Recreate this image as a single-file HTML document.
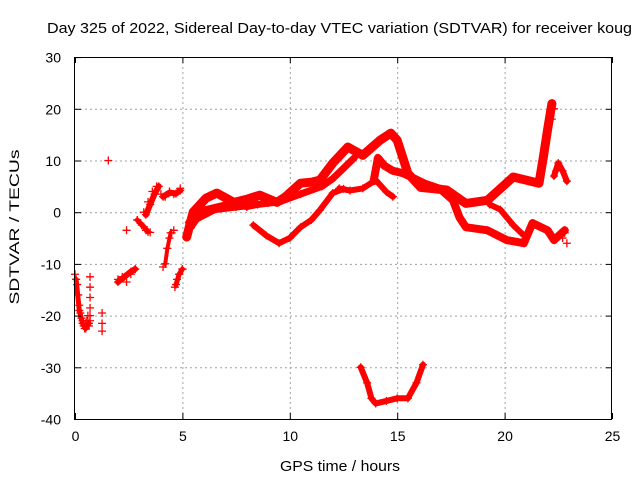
<!DOCTYPE html>
<html><head><meta charset="utf-8"><style>
body{margin:0;background:#fff;}
svg{display:block;font-family:"Liberation Sans",sans-serif;}
</style></head><body>
<svg id="chart" width="640" height="480" viewBox="0 0 640 480">
<rect width="640" height="480" fill="#fff"/>
<text x="47" y="33" font-size="15" textLength="585" lengthAdjust="spacingAndGlyphs" fill="#000">Day 325 of 2022, Sidereal Day-to-day VTEC variation (SDTVAR) for receiver koug</text>
<g id="grid"></g>
<g id="marks"></g>
<rect x="74.5" y="57.5" width="537" height="362" fill="none" stroke="#000" stroke-width="1"/>
<g id="ticks"></g>
<text transform="translate(19,227) rotate(-90)" text-anchor="middle" font-size="14" textLength="155" lengthAdjust="spacingAndGlyphs">SDTVAR / TECUs</text>
<text x="340" y="471" text-anchor="middle" font-size="15" textLength="120" lengthAdjust="spacingAndGlyphs">GPS time / hours</text>
</svg>
<script>
const xTicks=[0,5,10,15,20,25];
const yTicks=[30,20,10,0,-10,-20,-30,-40];
// main tracks (hours, TECU)
const trackAX=[5.2,5.5,6.1,6.6,7.4,8.0,8.6,9.4,9.8,10.5,11.0,11.4,12.0,12.7,13.4,14.2,14.7,15.0,15.5,16.1,17.3,18.2,19.2,20.4,21.0,21.6,21.8,22.0,22.2];
const trackAY=[-4.8,0,2.7,3.7,1.9,2.5,3.3,1.9,3.0,5.6,5.8,6.2,9.5,12.6,11.0,13.9,15.3,13.9,7.5,4.8,4.3,1.7,2.3,6.8,6.2,5.6,10.6,16,21];
const trackBX=[5.3,5.8,6.5,7.5,8.5,9.5,10.5,11.5,12.0,12.5,13.0];
const trackBY=[-2,-1,0.5,1.0,1.5,2.0,3.5,5.0,6.5,8.5,10.5];
const trackB2X=[5.4,6.0,7.0,8.0,9.0,9.6];
const trackB2Y=[-3,0.5,1.5,1.0,1.8,2.2];
const trackCX=[12.3,12.8,13.4,14.0,14.5,14.8];
const trackCY=[4.6,4.2,4.6,6.2,3.9,3.0];
const trackDX=[13.9,14.1,14.4,14.8,15.3,15.8,16.3,17.0,17.6,17.9,18.2,19.2,20.1,20.9,21.3,22.0,22.3,22.8];
const trackDY=[6.0,10.5,9.0,8.0,7.5,6.5,5.5,4.5,2.3,-1,-2.9,-3.5,-5.4,-6,-2.1,-3.5,-5.4,-3.5];
const trackEX=[19.3,19.8,20.4,20.9];
const trackEY=[1.5,0.5,-2.5,-4.5];
const trackFX=[8.3,8.9,9.5,10.0,10.5,11.0,11.4,12.0,12.5];
const trackFY=[-2.5,-4.5,-6,-5.0,-2.9,-1.5,0.4,3.7,4.5];
const trackGX=[22.3,22.5,22.7,22.9];
const trackGY=[7,9.5,8,6];
const trackHX=[13.3,13.6,13.8,14.0,14.5,15.0,15.5,15.9,16.2];
const trackHY=[-30,-33,-36,-37,-36.5,-36,-36,-33,-29.5];
// short dense clusters
const clusterAX=[3.3,3.5,3.7,3.9];
const clusterAY=[-0.5,1.5,3.5,5];
const clusterBX=[4.1,4.4,4.7,4.9];
const clusterBY=[3,3.8,3.6,4.2];
const clusterCX=[2.0,2.3,2.6,2.8];
const clusterCY=[-13.5,-12.5,-11.5,-11];
const clusterDX=[2.9,3.2,3.4];
const clusterDY=[-1.5,-2.8,-3.8];
const clusterEX=[4.7,4.85,5.0];
const clusterEY=[-14,-12,-11];
const clusterFX=[0.05,0.2,0.35,0.5,0.65];
const clusterFY=[-13,-19,-21.5,-22.5,-21.5];
const clusterGX=[4.2,4.3,4.45];
const clusterGY=[-10,-7,-4];
// scattered early points
const scatX=[0.0,0.05,0.1,0.15,0.2,0.25,0.3,0.35,0.4,0.45,0.5,0.55,0.6,0.65,0.7,0.7,0.7,0.7,0.7,0.7,1.26,1.26,1.26,1.55,2.4,2.0,2.2,2.4,2.6,2.8,2.9,3.1,3.3,3.5,3.2,3.4,3.6,3.8,4.0,4.2,4.4,4.6,4.8,4.9,4.1,4.2,4.3,4.4,4.5,4.6,4.65,4.75,4.85,5.0,22.8,22.9,22.7,22.2,22.3,22.4];
const scatY=[-12,-13,-14,-16,-18,-19.5,-20.5,-21,-22,-22.5,-21.5,-21,-20,-22,-12.5,-14.5,-16.5,-18.5,-20,-21,-19.5,-21.5,-23,10,-3.5,-13,-12.5,-13.5,-12,-11,-1.5,-2.5,-3.5,-3.9,0,2,4,5,3.5,3,4,3.5,4,4.6,-10.6,-10,-7,-5,-4,-3.5,-14.5,-13,-12,-11,-4,-6,-5,18,20,8];

const X=v=>75+v*21.48, Y=v=>212.2-v*5.17;
const NS='http://www.w3.org/2000/svg';
const grid=document.getElementById('grid'), ticks=document.getElementById('ticks'), marks=document.getElementById('marks');
function mk(tag,attrs,parent){const e=document.createElementNS(NS,tag);for(const k in attrs)e.setAttribute(k,attrs[k]);parent.appendChild(e);return e;}
xTicks.forEach(t=>{
  const x=X(t)+0.5;
  if(t>0&&t<25){const g=mk('line',{x1:x,x2:x,y1:57,y2:419,stroke:'#a0a0a0','stroke-dasharray':'2,3'},grid);
  
  }
  mk('line',{x1:x,x2:x,y1:419,y2:413,stroke:'#000'},ticks);
  mk('line',{x1:x,x2:x,y1:57,y2:63,stroke:'#000'},ticks);
  const l=mk('text',{x:x,y:441,'text-anchor':'middle','font-size':'14'},ticks);
  l.textContent=t;
  
  
});
yTicks.forEach(t=>{
  const y=Y(t)+0.5;
  if(t<30&&t>-40){const g=mk('line',{x1:75,x2:612,y1:y,y2:y,stroke:'#a0a0a0','stroke-dasharray':'2,3'},grid);
  
  }
  mk('line',{x1:75,x2:81,y1:y,y2:y,stroke:'#000'},ticks);
  mk('line',{x1:606,x2:612,y1:y,y2:y,stroke:'#000'},ticks);
  const l=mk('text',{x:61,y:y+5,'text-anchor':'end','font-size':'14'},ticks);
  l.textContent=t;
  
  
});
function plus(x,y,s){
  mk('path',{d:`M${x-s},${y}h${2*s}M${x},${y-s}v${2*s}`,stroke:'#ff0000','stroke-width':1.3,fill:'none'},marks);
}
const tracks=[[trackAX,trackAY,9],[trackBX,trackBY,7],[trackB2X,trackB2Y,6],[trackCX,trackCY,6],[trackDX,trackDY,8],[trackEX,trackEY,6],[trackFX,trackFY,6],[trackGX,trackGY,6],[trackHX,trackHY,6],
 [clusterAX,clusterAY,6],[clusterBX,clusterBY,6],[clusterCX,clusterCY,6],[clusterDX,clusterDY,5],[clusterEX,clusterEY,5],[clusterFX,clusterFY,5],[clusterGX,clusterGY,4]];
tracks.forEach((tr,i)=>{
  const pts=tr[0].map((v,j)=>X(v).toFixed(1)+','+Y(tr[1][j]).toFixed(1)).join(' ');
  const pl=mk('polyline',{points:pts,fill:'none',stroke:'#ff0000','stroke-width':tr[2],'stroke-linejoin':'round','stroke-linecap':'round'},marks);
  
  
  tr[0].forEach((v,j)=>plus(X(v),Y(tr[1][j]),4));
});
scatX.forEach((v,i)=>plus(X(v),Y(scatY[i]),4));
</script>
</body></html>
